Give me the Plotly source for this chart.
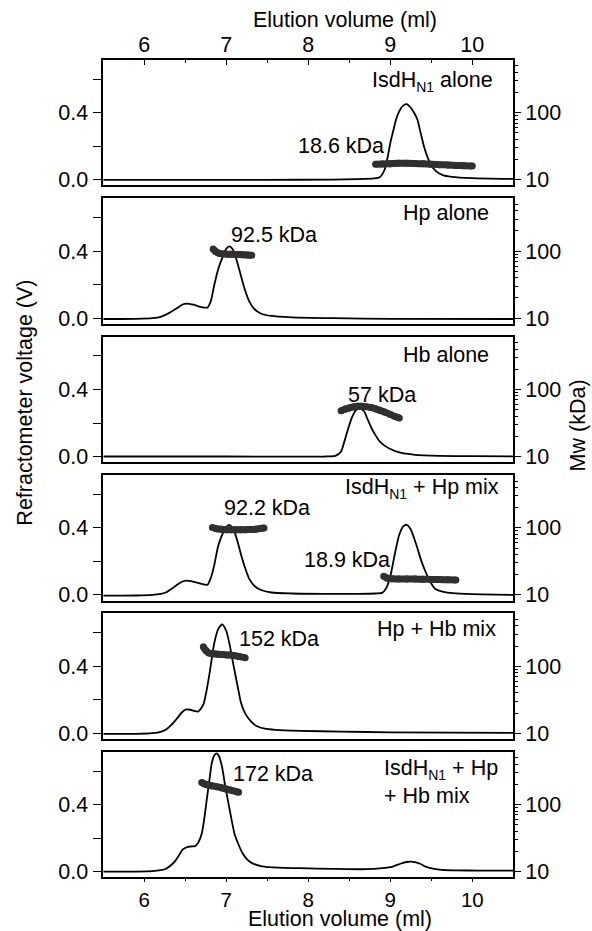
import plotly.graph_objects as go

# ---------------- data: elution volume (ml) vs refractometer voltage (V) ----------------
ISDH_RI_X = [5.5, 6.5, 7.5, 8.3, 8.6, 8.8, 8.87, 8.93, 8.97, 9.0, 9.04, 9.07, 9.11, 9.15, 9.2,
             9.25, 9.29, 9.33, 9.37, 9.41, 9.45, 9.5, 9.56, 9.64, 9.75, 10.0, 10.5]
ISDH_RI_Y = [0.0, 0.0, 0.0, 0.001, 0.004, 0.008, 0.015, 0.06, 0.14, 0.22, 0.3, 0.36, 0.41, 0.44, 0.452,
             0.43, 0.4, 0.36, 0.28, 0.2, 0.14, 0.085, 0.05, 0.028, 0.018, 0.01, 0.005]
ISDH_MW_X = [8.82, 8.9, 9.0, 9.1, 9.2, 9.3, 9.4, 9.5, 9.6, 9.7, 9.8, 9.9, 10.0]
ISDH_MW = [17.0, 17.2, 17.4, 17.6, 17.6, 17.5, 17.3, 17.0, 16.8, 16.6, 16.4, 16.2, 16.0]

HP_RI_X = [5.5, 5.9, 6.1, 6.2, 6.3, 6.4, 6.46, 6.52, 6.6, 6.68, 6.77, 6.81, 6.85, 6.9, 6.95, 7.0,
           7.04, 7.08, 7.13, 7.18, 7.23, 7.28, 7.34, 7.42, 7.55, 7.8, 8.3, 9.0, 10.5]
HP_RI_Y = [-0.005, -0.004, 0.0, 0.008, 0.03, 0.06, 0.08, 0.087, 0.08, 0.068, 0.063, 0.1, 0.19, 0.29,
           0.36, 0.415, 0.428, 0.41, 0.34, 0.25, 0.165, 0.1, 0.055, 0.028, 0.013, 0.005, 0.0, -0.004, -0.005]
HP_MW_X = [6.84, 6.87, 6.91, 6.96, 7.01, 7.06, 7.11, 7.16, 7.21, 7.26, 7.31]
HP_MW = [108, 99, 93, 91, 90, 90, 89, 89, 88, 87.5, 87]

HB_RI_X = [5.5, 7.0, 8.2, 8.33, 8.4, 8.44, 8.47, 8.53, 8.58, 8.63, 8.68, 8.72, 8.77, 8.81, 8.87,
           8.93, 9.0, 9.11, 9.3, 9.6, 10.0, 10.5]
HB_RI_Y = [0.0, 0.0, 0.0, 0.004, 0.03, 0.09, 0.14, 0.23, 0.275, 0.288, 0.27, 0.226, 0.17, 0.135, 0.09,
           0.065, 0.045, 0.024, 0.01, 0.004, 0.002, 0.001]
HB_MW_X = [8.40, 8.45, 8.5, 8.55, 8.6, 8.65, 8.7, 8.76, 8.82, 8.88, 8.93, 9.0, 9.06, 9.11]
HB_MW = [48, 51, 53, 55, 56, 56, 55.5, 54, 51.5, 48.5, 46, 42.5, 39.5, 37.5]

MIX1_RI_X = [5.5, 5.9, 6.1, 6.2, 6.26, 6.33, 6.4, 6.46, 6.51, 6.57, 6.63, 6.7, 6.77, 6.81, 6.85, 6.9,
             6.95, 7.0, 7.03, 7.08, 7.13, 7.18, 7.23, 7.28, 7.34, 7.41, 7.55, 7.8, 8.2, 8.6, 8.82,
             8.9, 8.95, 9.0, 9.06, 9.11, 9.16, 9.2, 9.25, 9.32, 9.38, 9.43, 9.49, 9.55, 9.65, 9.76,
             10.0, 10.5]
MIX1_RI_Y = [-0.005, -0.004, 0.0, 0.006, 0.014, 0.035, 0.06, 0.078, 0.085, 0.082, 0.075, 0.065, 0.06,
             0.1, 0.17, 0.29, 0.36, 0.405, 0.418, 0.4, 0.33, 0.24, 0.16, 0.095, 0.055, 0.032, 0.014,
             0.008, 0.006, 0.006, 0.008, 0.012, 0.04, 0.11, 0.256, 0.36, 0.41, 0.418, 0.39, 0.295,
             0.2, 0.138, 0.075, 0.035, 0.018, 0.01, 0.004, 0.0]
MIX1_MW_A_X = [6.83, 6.88, 6.94, 7.0, 7.06, 7.12, 7.18, 7.24, 7.3, 7.36, 7.42, 7.46]
MIX1_MW_A = [101, 97, 95, 94, 93.5, 93.5, 93.5, 94, 94.5, 95.5, 97.5, 99.5]
MIX1_MW_B_X = [8.92, 8.96, 9.02, 9.1, 9.2, 9.3, 9.4, 9.5, 9.6, 9.7, 9.8]
MIX1_MW_B = [19.0, 17.8, 17.4, 17.3, 17.3, 17.2, 17.1, 17.0, 16.9, 16.8, 16.7]

MIX2_RI_X = [5.5, 5.9, 6.1, 6.2, 6.26, 6.33, 6.4, 6.46, 6.51, 6.56, 6.61, 6.66, 6.72, 6.76, 6.8,
             6.85, 6.9, 6.95, 7.0, 7.04, 7.09, 7.14, 7.18, 7.23, 7.3, 7.37, 7.47, 7.6, 7.9, 8.4,
             9.0, 10.5]
MIX2_RI_Y = [-0.004, -0.004, 0.0, 0.008, 0.02, 0.05, 0.089, 0.125, 0.142, 0.14, 0.133, 0.13, 0.17,
             0.256, 0.37, 0.53, 0.62, 0.65, 0.61, 0.53, 0.4, 0.276, 0.18, 0.118, 0.07, 0.043, 0.027,
             0.02, 0.014, 0.01, 0.005, 0.002]
MIX2_MW_X = [6.72, 6.75, 6.79, 6.84, 6.9, 6.96, 7.02, 7.09, 7.16, 7.23]
MIX2_MW = [195, 172, 157, 153, 151, 149, 147, 144, 139, 134]

MIX3_RI_X = [5.5, 5.9, 6.1, 6.2, 6.25, 6.31, 6.37, 6.42, 6.47, 6.53, 6.58, 6.62, 6.66, 6.7, 6.73,
             6.76, 6.79, 6.82, 6.85, 6.88, 6.91, 6.95, 6.98, 7.02, 7.06, 7.1, 7.15, 7.2, 7.26, 7.32,
             7.42, 7.53, 7.7, 7.9, 8.3, 8.7, 8.9, 9.03, 9.13, 9.2, 9.25, 9.3, 9.37, 9.43, 9.52, 9.63,
             9.8, 10.1, 10.5]
MIX3_RI_Y = [0.0, 0.0, 0.002, 0.008, 0.014, 0.032, 0.059, 0.095, 0.132, 0.148, 0.15, 0.152, 0.175,
             0.226, 0.31, 0.423, 0.53, 0.64, 0.69, 0.705, 0.69, 0.62, 0.53, 0.423, 0.32, 0.226, 0.16,
             0.108, 0.07, 0.049, 0.033, 0.026, 0.022, 0.02, 0.016, 0.014, 0.02, 0.03, 0.048, 0.057,
             0.059, 0.056, 0.045, 0.03, 0.018, 0.01, 0.007, 0.006, 0.006]
MIX3_MW_X = [6.70, 6.73, 6.76, 6.82, 6.88, 6.94, 7.0, 7.06, 7.12, 7.15]
MIX3_MW = [213, 205, 198, 191, 185, 178, 170, 163, 156, 152]

ISDH = "IsdH<sub><span style='font-size:14px'>N1</span></sub>"
SAMPLE_NAMES = [ISDH + " alone", "Hp alone", "Hb alone", ISDH + " + Hp mix", "Hp + Hb mix"]
MIX3_NAME_LINES = [ISDH + " + Hp", "+ Hb mix"]
MASS_LABELS = ["18.6 kDa", "92.5 kDa", "57 kDa", "92.2 kDa", "18.9 kDa", "152 kDa", "172 kDa"]

X_TICKS = [6, 7, 8, 9, 10]
X_MINOR = [6.5, 7.5, 8.5, 9.5]
V_TICKS = [0.0, 0.2, 0.4, 0.6]
V_TICK_TEXT = ["0.0", "", "0.4", ""]
MW_TICKS = [10, 100]
MW_MINOR = [20, 30, 40, 50, 60, 70, 80, 90, 200, 300, 400, 500]

# ---------------- layout constants ----------------
W, H = 592, 931
X_LEFT, X_RIGHT = 103.3, 513.3
TOP0, STEP, PANEL_H = 60.3, 139.4, 126.6
X_RANGE = [5.5, 10.5]
V_RANGE = [-0.034, 0.716]
LOG_RANGE = [1 + V_RANGE[0] / 0.4, 1 + V_RANGE[1] / 0.4]
FONT = dict(family="Liberation Sans, Arial, sans-serif", size=21.5, color="black")
BOTTOM_TICK_FONT = dict(FONT, size=20.5)
INK = "black"
MW_COLOR = "#303030"
MW_WIDTH = 7

panels = [
    dict(ri=(ISDH_RI_X, ISDH_RI_Y), mw=[(ISDH_MW_X, ISDH_MW)]),
    dict(ri=(HP_RI_X, HP_RI_Y), mw=[(HP_MW_X, HP_MW)]),
    dict(ri=(HB_RI_X, HB_RI_Y), mw=[(HB_MW_X, HB_MW)]),
    dict(ri=(MIX1_RI_X, MIX1_RI_Y), mw=[(MIX1_MW_A_X, MIX1_MW_A), (MIX1_MW_B_X, MIX1_MW_B)]),
    dict(ri=(MIX2_RI_X, MIX2_RI_Y), mw=[(MIX2_MW_X, MIX2_MW)]),
    dict(ri=(MIX3_RI_X, MIX3_RI_Y), mw=[(MIX3_MW_X, MIX3_MW)]),
]

fig = go.Figure()
n = len(panels)
layout = {}
for i, p in enumerate(panels):
    k = i + 1
    xa, ya, yr = f"x{k}", f"y{k}", f"y{k + n}"
    fig.add_trace(go.Scatter(
        x=p["ri"][0], y=p["ri"][1], mode="lines",
        line=dict(color=INK, width=1.8, shape="spline", smoothing=0.6),
        xaxis=xa, yaxis=ya, showlegend=False, hoverinfo="skip"))
    for mx, my in p["mw"]:
        # thick molar-mass trace; round dots of the same width cap and join it
        fig.add_trace(go.Scatter(
            x=mx, y=my, mode="lines+markers",
            line=dict(color=MW_COLOR, width=MW_WIDTH, shape="spline"),
            marker=dict(color=MW_COLOR, size=MW_WIDTH),
            xaxis=xa, yaxis=yr, showlegend=False, hoverinfo="skip"))

    top = TOP0 + i * STEP
    bottom = top + PANEL_H
    ydom = [1 - bottom / H, 1 - top / H]
    xdom = [X_LEFT / W, X_RIGHT / W]

    xaxis = dict(domain=xdom, range=X_RANGE, anchor=ya, showgrid=False, zeroline=False,
                 showline=True, mirror=True, linecolor=INK, linewidth=1.5,
                 tickfont=FONT, tickvals=X_TICKS, tickcolor=INK)
    if i == 0:
        xaxis.update(side="top", ticks="inside", ticklen=5, tickwidth=1.3, showticklabels=True,
                     ticklabelstandoff=-3,
                     minor=dict(tickvals=X_MINOR, ticks="inside", ticklen=3,
                                tickcolor=INK, tickwidth=1.2))
    elif i == n - 1:
        xaxis.update(side="bottom", ticks="outside", ticklen=3, tickwidth=1.3, showticklabels=True,
                     tickfont=BOTTOM_TICK_FONT,
                     minor=dict(tickvals=X_MINOR, ticks="outside", ticklen=2,
                                tickcolor=INK, tickwidth=1.2))
    else:
        xaxis.update(ticks="", showticklabels=False)
    layout[f"xaxis{k}"] = xaxis

    layout[f"yaxis{k}"] = dict(
        domain=ydom, range=V_RANGE, anchor=xa, showgrid=False, zeroline=False,
        showline=True, linecolor=INK, linewidth=1.5,
        tickvals=V_TICKS, ticktext=V_TICK_TEXT, ticks="outside", ticklen=9,
        tickwidth=1.3, tickcolor=INK, tickfont=FONT)
    layout[f"yaxis{k + n}"] = dict(
        overlaying=ya, side="right", anchor=xa, type="log", range=LOG_RANGE,
        showgrid=False, zeroline=False, showline=True, linecolor=INK, linewidth=1.5,
        tickvals=MW_TICKS, ticktext=["10", "100"], ticks="outside", ticklen=6,
        tickwidth=1.3, tickcolor=INK, tickfont=FONT,
        minor=dict(tickvals=MW_MINOR, ticks="outside", ticklen=3, tickcolor=INK, tickwidth=1.0))

fig.update_layout(**layout)

annotations = []


def note(text, x, y, k, xanchor="left", yanchor="middle"):
    annotations.append(dict(text=text, x=x, y=y, xref=f"x{k}", yref=f"y{k}",
                            xanchor=xanchor, yanchor=yanchor, showarrow=False, font=FONT))


# sample names, top-right of each panel
name_pos = [(10.28, 0.587), (10.23, 0.625), (10.23, 0.607), (10.35, 0.635), (10.31, 0.62)]
for i, (name, (nx, ny)) in enumerate(zip(SAMPLE_NAMES, name_pos)):
    note(name, nx, ny, i + 1, xanchor="right")
note(MIX3_NAME_LINES[0], 8.9, 0.61, 6)
note(MIX3_NAME_LINES[1], 8.9, 0.453, 6)

# weight-average masses
note(MASS_LABELS[0], 8.95, 0.203, 1, xanchor="right")
note(MASS_LABELS[1], 7.03, 0.496, 2)
note(MASS_LABELS[2], 8.455, 0.37, 3)
note(MASS_LABELS[3], 6.95, 0.516, 4)
note(MASS_LABELS[4], 9.02, 0.211, 4, xanchor="right")
note(MASS_LABELS[5], 7.13, 0.561, 5)
note(MASS_LABELS[6], 7.06, 0.585, 6)

# axis titles
for text, px, py, ang in [("Elution volume (ml)", 344.5, 20.0, 0),
                          ("Elution volume (ml)", 340.0, 926.0, 0),
                          ("Refractometer voltage (V)", 25.0, 405.7, -90),
                          ("Mw (kDa)", 578.3, 428.3, -90)]:
    annotations.append(dict(text=text, x=px / W, y=1 - py / H, xref="paper", yref="paper",
                            xanchor="center", yanchor="middle", textangle=ang,
                            showarrow=False, font=FONT))

fig.update_layout(
    width=W, height=H, margin=dict(l=0, r=0, t=0, b=0),
    paper_bgcolor="white", plot_bgcolor="white", font=FONT,
    annotations=annotations, showlegend=False)

fig.write_html("out.html")
